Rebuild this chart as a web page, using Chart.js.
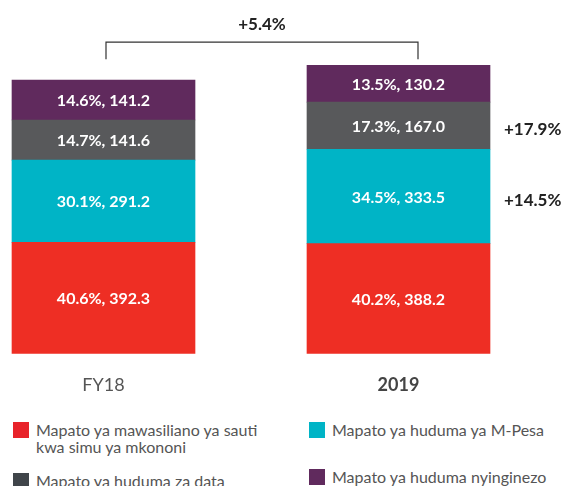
<!DOCTYPE html>
<html>
<head>
<meta charset="utf-8">
<script src="https://cdn.jsdelivr.net/npm/chart.js@4.4.1/dist/chart.umd.min.js"></script>
<style>
  html, body { margin: 0; padding: 0; background: #fff; }
  body { width: 564px; height: 486px; position: relative; overflow: hidden; font-family: Lato, "Noto Sans", sans-serif; }
  #wrap { position: absolute; left: 0; top: 0; width: 564px; height: 420px; }
  .leg { position: absolute; font-size: 16px; line-height: 17px; color: #555; }
  .leg .sq { position: absolute; width: 16px; height: 16px; left: -23px; top: 1px; }
</style>
</head>
<body>
<div id="wrap"><canvas id="c"></canvas></div>
<div id="legend"></div>
<script>
// ---- data ----
const categories = ['FY18', '2019'];
const seriesNames = [
  ['Mapato ya mawasiliano ya sauti', 'kwa simu ya mkononi'],
  ['Mapato ya huduma ya M-Pesa'],
  ['Mapato ya huduma za data'],
  ['Mapato ya huduma nyinginezo']
];
const voiceValues = [392.3, 388.2];
const mpesaValues = [291.2, 333.5];
const dataValues  = [141.6, 167.0];
const otherValues = [141.2, 130.2];
const voiceShare = ['40.6%', '40.2%'];
const mpesaShare = ['30.1%', '34.5%'];
const dataShare  = ['14.7%', '17.3%'];
const otherShare = ['14.6%', '13.5%'];
const growthLabels = ['', '+14.5%', '+17.9%', ''];   // per series, shown right of 2019 bar
const totalGrowth = '+5.4%';

const barColors = ['#ee2e24', '#00b4c6', '#58595b', '#602a5d'];
const legendColors = ['#e8232a', '#00b4c6', '#40454a', '#602a5d'];

const seriesValues = [voiceValues, mpesaValues, dataValues, otherValues];
const seriesShares = [voiceShare, mpesaShare, dataShare, otherShare];

const datasets = seriesValues.map((vals, i) => ({
  label: seriesNames[i].join(' '),
  data: vals,
  backgroundColor: barColors[i],
  borderWidth: 0,
  barThickness: 183,
  clip: false
}));

const overlay = {
  id: 'overlay',
  afterDatasetsDraw(chart) {
    const ctx = chart.ctx;
    const xs = chart.scales.x, ys = chart.scales.y;
    ctx.save();
    // segment labels
    ctx.font = 'bold 16px Lato';
    ctx.fillStyle = '#ffffff';
    ctx.textAlign = 'center';
    ctx.textBaseline = 'middle';
    chart.data.datasets.forEach((ds, di) => {
      const meta = chart.getDatasetMeta(di);
      meta.data.forEach((bar, j) => {
        const y = (bar.y + bar.base) / 2;
        ctx.fillText(seriesShares[di][j] + ', ' + ds.data[j].toFixed(1), bar.x, y + 1);
      });
    });
    // growth labels to the right of the 2019 bar
    ctx.font = 'bold 17px Lato';
    ctx.fillStyle = '#222222';
    ctx.textAlign = 'left';
    chart.data.datasets.forEach((ds, di) => {
      if (!growthLabels[di]) return;
      const bar = chart.getDatasetMeta(di).data[1];
      const y = (bar.y + bar.base) / 2;
      ctx.fillText(growthLabels[di], bar.x + bar.width / 2 + 14, y + 4);
    });
    // bracket
    const totals = categories.map((_, j) => seriesValues.reduce((s, v) => s + v[j], 0));
    const topPx = ys.getPixelForValue(Math.max(...totals));
    const yLine = topPx - 23;
    const x1 = xs.getPixelForValue(0) + 2.5;
    const x2 = xs.getPixelForValue(1) + 19.5;
    ctx.strokeStyle = '#333333';
    ctx.lineWidth = 1.2;
    ctx.beginPath();
    ctx.moveTo(x1, yLine + 17);
    ctx.lineTo(x1, yLine);
    ctx.lineTo(x2, yLine);
    ctx.lineTo(x2, yLine + 17);
    ctx.stroke();
    ctx.textAlign = 'center';
    ctx.fillText(totalGrowth, (x1 + x2) / 2, yLine - 18);
    ctx.restore();
  }
};

new Chart(document.getElementById('c'), {
  type: 'bar',
  data: { labels: categories, datasets },
  options: {
    responsive: true,
    maintainAspectRatio: false,
    animation: false,
    layout: { padding: { left: 103.5, right: 165.5, top: 14, bottom: 3 } },
    plugins: { legend: { display: false }, tooltip: { enabled: false } },
    scales: {
      x: {
        stacked: true,
        offset: false,
        grid: { display: false, drawTicks: false, tickLength: 0 },
        border: { display: false },
        ticks: {
          padding: 21,
          color: (c) => c.index === 1 ? '#444444' : '#555555',
          font: (c) => ({ family: 'Lato', size: 18, weight: c.index === 1 ? 'bold' : 'normal' })
        }
      },
      y: {
        stacked: true,
        display: false,
        min: 0,
        max: 1200
      }
    }
  },
  plugins: [overlay]
});

// HTML legend built from the series
const legendPos = [
  { left: 36, top: 421 },
  { left: 332, top: 421 },
  { left: 36, top: 472 },
  { left: 332, top: 468 }
];
const legend = document.getElementById('legend');
seriesNames.forEach((lines, i) => {
  const d = document.createElement('div');
  d.className = 'leg';
  d.style.left = legendPos[i].left + 'px';
  d.style.top = legendPos[i].top + 'px';
  d.innerHTML = '<span class="sq" style="background:' + legendColors[i] + '"></span>' + lines.join('<br>');
  legend.appendChild(d);
});
</script>
</body>
</html>
